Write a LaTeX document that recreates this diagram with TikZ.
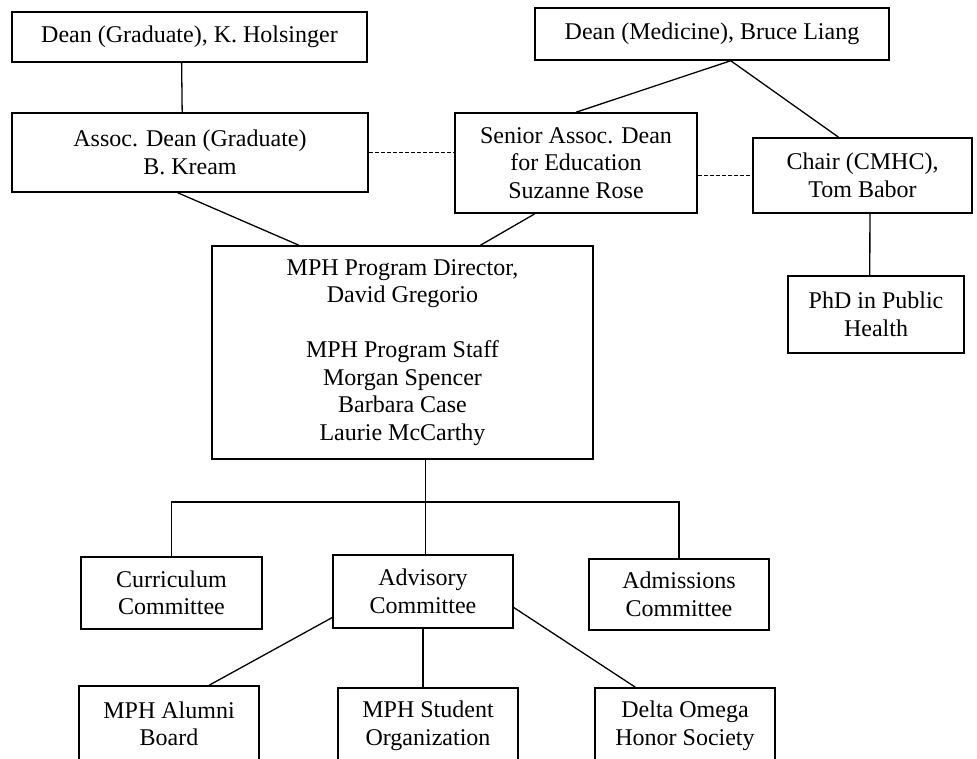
\documentclass[tikz,border=0pt]{standalone}
\usepackage{fontspec}
\setmainfont{Liberation Serif}
\usepackage{tikz}

\begin{document}
\begin{tikzpicture}
[x=1pt,y=-1pt,line width=1.3pt,every node/.style={draw,rectangle,line width=1.5pt,align=center,inner sep=2pt,font=\fontsize{24}{27.5}\selectfont}]
\useasboundingbox (0,0) rectangle (977,759);
\clip (0,0) rectangle (977,759);
\node[minimum width=355pt,minimum height=50pt] (dgrad) at (189.5,37) {Dean (Graduate), K. Holsinger};
\node[minimum width=354pt,minimum height=52pt] (dmed) at (712,34) {Dean (Medicine), Bruce Liang};
\node[minimum width=356pt,minimum height=79pt] (agrad) at (190,152.5) {Assoc. Dean (Graduate)\\B. Kream};
\node[minimum width=242pt,minimum height=100pt] (sadean) at (576,163) {Senior Assoc. Dean\\for Education\\Suzanne Rose};
\node[minimum width=219pt,minimum height=75pt] (chair) at (862.5,175.5) {Chair (CMHC),\\Tom Babor};
\node[minimum width=176pt,minimum height=77pt] (phd) at (876,314.5) {PhD in Public\\Health};
\node[minimum width=381pt,minimum height=213pt] (mph) at (402.5,352.5) {MPH Program Director,\\David Gregorio\\[27.5pt]MPH Program Staff\\Morgan Spencer\\Barbara Case\\Laurie McCarthy};
\node[minimum width=181pt,minimum height=72pt] (curr) at (171.5,593) {Curriculum\\Committee};
\node[minimum width=180pt,minimum height=73pt] (adv) at (423,591.5) {Advisory\\Committee};
\node[minimum width=180pt,minimum height=71pt] (adm) at (679,594.5) {Admissions\\Committee};
\node[minimum width=180pt,minimum height=76pt] (alum) at (169,724) {MPH Alumni\\Board};
\node[minimum width=180pt,minimum height=76pt] (stud) at (428,726) {MPH Student\\Organization};
\node[minimum width=180pt,minimum height=76pt] (delta) at (685,726) {Delta Omega\\Honor Society};
\foreach \from/\to in {dgrad.253/agrad.101,agrad.253/mph.134,dmed.305/sadean.north,dmed.305/chair.122,sadean.231/mph.54,chair.281/phd.99,adv.196/alum.44,adv.350/delta.142}
\draw (\from) -- (\to);
\draw[dash pattern=on 4pt off 2pt] (agrad.east) -- (agrad.east -| sadean.west);
\draw[dash pattern=on 4pt off 2pt] (chair.west -| sadean.east) -- (chair.west);
\coordinate (bus) at (425,502);
\draw (mph.282) -- (mph.282 |- adv.north);
\draw (curr.north) |- (bus) -| (adm.north);
\draw (adv.south) -- (adv.south |- stud.north);

\end{tikzpicture}
\end{document}
